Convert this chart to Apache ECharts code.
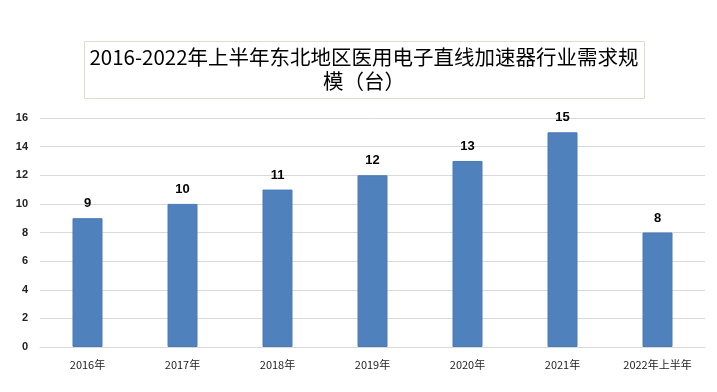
<!DOCTYPE html>
<html><head><meta charset="utf-8">
<script src="https://cdn.jsdelivr.net/npm/echarts@6/dist/echarts.min.js"></script>
<style>html,body{margin:0;padding:0;background:#fff}#c{width:717px;height:392px}</style>
</head><body><div id="c"></div>
<script>
const titleLines = ['2016-2022年上半年东北地区医用电子直线加速器行业需求规', '模（台）'];
const categories = ['2016年', '2017年', '2018年', '2019年', '2020年', '2021年', '2022年上半年'];
const values = [9, 10, 11, 12, 13, 15, 8];
const yTicks = {min: 0, max: 16, interval: 2};

const chart = echarts.init(document.getElementById('c'));
chart.setOption({
  animation: false,
  backgroundColor: '#fff',
  graphic: [
    {type: 'rect', left: 84, top: 41, shape: {width: 560, height: 57},
     style: {fill: '#fff', stroke: '#e0dccb', lineWidth: 1}},
    {type: 'text', x: 364, y: 45,
     style: {text: titleLines.join('\n'), textAlign: 'center', fill: '#000',
       font: '20.5px "Noto Sans CJK SC", sans-serif', lineHeight: 24}}
  ],
  grid: {left: 40, right: 12, top: 118, bottom: 45},
  xAxis: {
    type: 'category', data: categories,
    axisLine: {lineStyle: {color: '#d9d9d9'}},
    axisTick: {show: false},
    axisLabel: {color: '#222', fontSize: 11, margin: 12, fontFamily: '"Noto Sans CJK SC", sans-serif'}
  },
  yAxis: {
    type: 'value', min: yTicks.min, max: yTicks.max, interval: yTicks.interval,
    axisLine: {show: false}, axisTick: {show: false},
    splitLine: {lineStyle: {color: '#d9d9d9'}},
    axisLabel: {color: '#222', fontSize: 11, fontWeight: 'bold', margin: 12, fontFamily: 'Liberation Sans, sans-serif'}
  },
  series: [{
    type: 'bar', data: values, barWidth: 30,
    itemStyle: {color: '#4f81bd', borderColor: '#4a7ab5', borderWidth: 1},
    label: {show: true, position: 'top', distance: 8, color: '#000', fontSize: 13, fontWeight: 'bold', fontFamily: 'Liberation Sans, sans-serif'}
  }]
});
</script></body></html>
